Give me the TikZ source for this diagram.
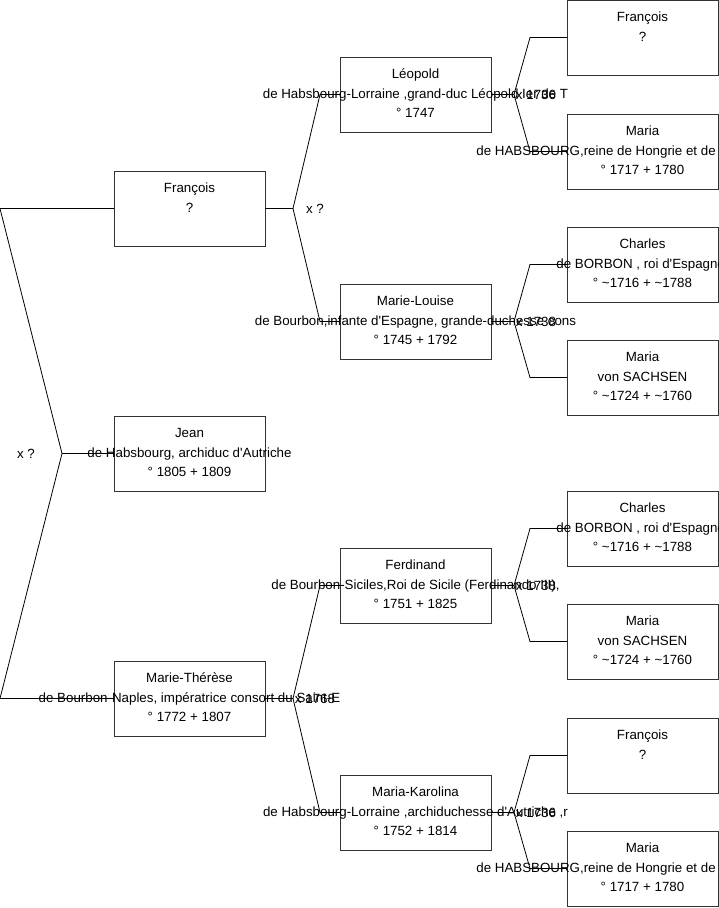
\documentclass[tikz,border=0pt]{standalone}
\usepackage{fontspec}
\setmainfont{Liberation Sans}[Ligatures=TeXOff]
\usetikzlibrary{calc}

% boite + trois lignes de texte
\newcommand{\personne}[6][]{%
  \node[boite] (#2) at (#3) {};
  \node[ligne] (#2-1) at ([yshift=-21]#2.north) {#4};
  \node[ligne, #1] (#2-2) at ([yshift=-41]#2.north) {#5};
  \node[ligne] (#2-3) at ([yshift=-60.5]#2.north) {#6};}

\begin{document}
\begin{tikzpicture}[x=1pt, y=-1pt, line width=0.8pt,
  boite/.style={draw=black!80, anchor=north west, minimum width=151pt,
    minimum height=75pt, inner sep=0pt, outer sep=0pt},
  ligne/.style={anchor=base, inner sep=0pt, font=\fontsize{13.33pt}{20pt}\selectfont},
  mariage/.style={inner sep=0pt, font=\fontsize{13.33pt}{20pt}\selectfont}]
  \useasboundingbox (0,0) rectangle (719,908);
  \clip (0,0) rectangle (719,908);

  % generation 1
  \personne{fr}{114,171}{François}{?}{}
  \personne{jean}{114,416}{Jean}{de Habsbourg, archiduc d'Autriche}{° 1805 + 1809}
  \personne{mt}{114,661}{Marie-Thérèse}{de Bourbon-Naples, impératrice consort du Saint-E}{° 1772 + 1807}

  % generation 2
  \personne{leo}{340,57}{Léopold}{de Habsbourg-Lorraine ,grand-duc Léopold Ier de T}{° 1747}
  \personne{ml}{340,284}{Marie-Louise}{de Bourbon,infante d'Espagne, grande-duchesse cons}{° 1745 + 1792}
  \personne{fe}{340,548}{Ferdinand}{de Bourbon-Siciles,Roi de Sicile (Ferdinando III),}{° 1751 + 1825}
  \personne{mk}{340,775}{Maria-Karolina}{de Habsbourg-Lorraine ,archiduchesse d'Autriche ,r}{° 1752 + 1814}

  % generation 3
  \personne{f1}{567,0}{François}{?}{}
  \personne[anchor=base west, xshift=-166.5]{m1}{567,114}{Maria}{de HABSBOURG,reine de Hongrie et de}{° 1717 + 1780}
  \personne[anchor=base west, xshift=-86.5]{c1}{567,227}{Charles}{de BORBON , roi d'Espagne}{° \textasciitilde1716 + \textasciitilde1788}
  \personne{s1}{567,340}{Maria}{von SACHSEN}{° \textasciitilde1724 + \textasciitilde1760}
  \personne[anchor=base west, xshift=-86.5]{c2}{567,491}{Charles}{de BORBON , roi d'Espagne}{° \textasciitilde1716 + \textasciitilde1788}
  \personne{s2}{567,604}{Maria}{von SACHSEN}{° \textasciitilde1724 + \textasciitilde1760}
  \personne{f2}{567,718}{François}{?}{}
  \personne[anchor=base west, xshift=-166.5]{m2}{567,831}{Maria}{de HABSBOURG,reine de Hongrie et de}{° 1717 + 1780}

  % racine
  \draw (fr.west) -- ++(-114,0) coordinate (r-haut) -- ([xshift=-52]jean.west) coordinate (r-x)
        -- (mt.west -| r-haut) -- (mt.west);
  \draw (r-x) -- (jean.west);
  \node[mariage] (r-m) at ([xshift=-36]r-x) {x ?};

  % parents de la generation 1
  \draw (fr.east) -- ++(28,0) coordinate (fr-x) -- ([xshift=-20]leo.west) -- (leo.west);
  \draw (fr-x) -- ([xshift=-20]ml.west) -- (ml.west);
  \node[mariage] (fr-m) at ([xshift=22]fr-x) {x ?};
  \draw (mt.east) -- ++(28,0) coordinate (mt-x) -- ([xshift=-20]fe.west) -- (fe.west);
  \draw (mt-x) -- ([xshift=-20]mk.west) -- (mk.west);
  \node[mariage] (mt-m) at ([xshift=22]mt-x) {x 1768};

  % parents de la generation 2
  \draw (leo.east) -- ++(23,0) coordinate (leo-x) -- ([xshift=-37]f1.west) -- (f1.west);
  \draw (leo-x) -- ([xshift=-37]m1.west) -- (m1.west);
  \node[mariage] (leo-m) at ([xshift=22]leo-x) {x 1736};
  \draw (ml.east) -- ++(23,0) coordinate (ml-x) -- ([xshift=-37]c1.west) -- (c1.west);
  \draw (ml-x) -- ([xshift=-37]s1.west) -- (s1.west);
  \node[mariage] (ml-m) at ([xshift=22]ml-x) {x 1738};
  \draw (fe.east) -- ++(23,0) coordinate (fe-x) -- ([xshift=-37]c2.west) -- (c2.west);
  \draw (fe-x) -- ([xshift=-37]s2.west) -- (s2.west);
  \node[mariage] (fe-m) at ([xshift=22]fe-x) {x 1738};
  \draw (mk.east) -- ++(23,0) coordinate (mk-x) -- ([xshift=-37]f2.west) -- (f2.west);
  \draw (mk-x) -- ([xshift=-37]m2.west) -- (m2.west);
  \node[mariage] (mk-m) at ([xshift=22]mk-x) {x 1736};
\end{tikzpicture}
\end{document}
